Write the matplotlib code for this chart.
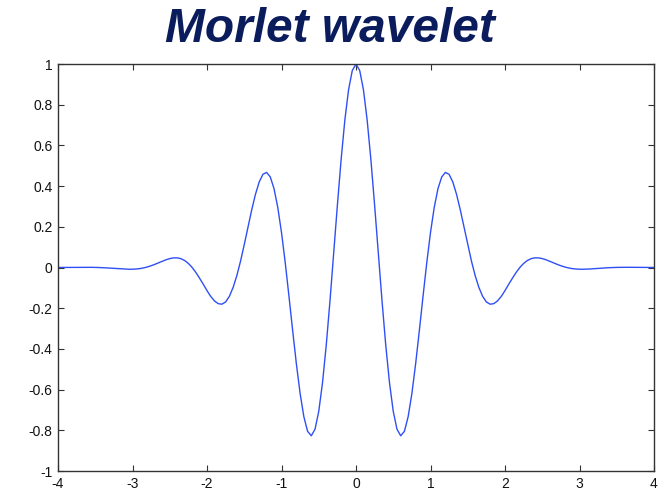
import matplotlib
matplotlib.use("Agg")
import matplotlib.pyplot as plt
import numpy as np

# sample positions (t) and wavelet amplitude
t = [round(-4 + 0.05 * i, 2) for i in range(161)]
y = [0.00014, 0.00025, 0.00040, 0.00056, 0.00072, 0.00088, 0.00100, 0.00106, 0.00101,
     0.00084, 0.00048, -0.00007, -0.00085, -0.00185, -0.00303, -0.00435, -0.00572,
     -0.00699, -0.00801, -0.00857, -0.00844, -0.00741, -0.00530, -0.00194, 0.00271,
     0.00861, 0.01553, 0.02315, 0.03090, 0.03808, 0.04384, 0.04725, 0.04737, 0.04331,
     0.03432, 0.02002, 0.00039, -0.02410, -0.05243, -0.08210, -0.11356, -0.14220,
     -0.16400, -0.17764, -0.18031, -0.16926, -0.14192, -0.09841, -0.04046, 0.03090,
     0.11254, 0.19860, 0.28295, 0.35900, 0.41950, 0.45767, 0.46736, 0.44455, 0.38698,
     0.29507, 0.17205, 0.02394, -0.14060, -0.31084, -0.47464, -0.61939, -0.73297,
     -0.80482, -0.82691, -0.79456, -0.70701, -0.56768, -0.38416, -0.16766, 0.06763,
     0.30562, 0.52960, 0.72350, 0.87320, 0.96770,
     1.00000,
     0.96770, 0.87320, 0.72350, 0.52960, 0.30562, 0.06763, -0.16766,
     -0.38416, -0.56768, -0.70701, -0.79456, -0.82691, -0.80482, -0.73297, -0.61939,
     -0.47464, -0.31084, -0.14060, 0.02394, 0.17205, 0.29507, 0.38698, 0.44455,
     0.46736, 0.45767, 0.41950, 0.35900, 0.28295, 0.19860, 0.11254, 0.03090,
     -0.04046, -0.09841, -0.14192, -0.16926, -0.18031, -0.17764, -0.16400, -0.14220,
     -0.11356, -0.08210, -0.05243, -0.02410, 0.00039, 0.02002, 0.03432, 0.04331,
     0.04737, 0.04725, 0.04384, 0.03808, 0.03090, 0.02315, 0.01553, 0.00861,
     0.00271, -0.00194, -0.00530, -0.00741, -0.00844, -0.00857, -0.00801, -0.00699,
     -0.00572, -0.00435, -0.00303, -0.00185, -0.00085, -0.00007, 0.00048, 0.00084,
     0.00101, 0.00106, 0.00100, 0.00088, 0.00072, 0.00056, 0.00040, 0.00025, 0.00014]

xticks = [-4, -3, -2, -1, 0, 1, 2, 3, 4]
xticklabels = ["-4", "-3", "-2", "-1", "0", "1", "2", "3", "4"]
yticks = [-1, -0.8, -0.6, -0.4, -0.2, 0, 0.2, 0.4, 0.6, 0.8, 1]
yticklabels = ["-1", "-0.8", "-0.6", "-0.4", "-0.2", "0", "0.2", "0.4", "0.6", "0.8", "1"]
title = "Morlet wavelet"

fig = plt.figure(figsize=(6.7, 4.94), dpi=100)
ax = fig.add_axes([58 / 670, 23 / 494, 596 / 670, 407 / 494])
ax.plot(t, y, color="#2f4ff5", linewidth=1.0, solid_joinstyle="round")
ax.set_xlim(-4, 4)
ax.set_ylim(-1, 1)
ax.set_xticks(xticks)
ax.set_xticklabels(xticklabels)
ax.set_yticks(yticks)
ax.set_yticklabels(yticklabels)
ax.tick_params(direction="in", length=4, width=0.8, top=True, right=True,
               labelsize=10, colors="#333333", labelcolor="#111111")
ax.tick_params(axis="x", pad=4)
ax.tick_params(axis="y", pad=4)
for lab in ax.get_xticklabels() + ax.get_yticklabels():
    lab.set_family("Liberation Sans")
for s in ax.spines.values():
    s.set_color("#333333")
    s.set_linewidth(1.0)

fig.text(330 / 670, 1 - 29 / 494, title, ha="center", va="center",
         fontsize=34.5, fontweight="bold", fontstyle="italic",
         family="Liberation Sans", color="#0b1c5c")

fig.savefig("out.png", dpi=100)
